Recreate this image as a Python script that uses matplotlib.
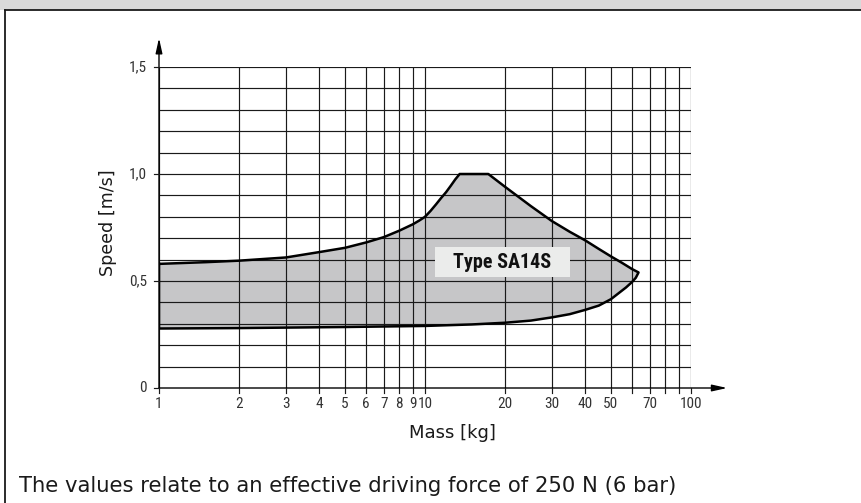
import matplotlib
matplotlib.use("Agg")
import matplotlib.pyplot as plt
from matplotlib.lines import Line2D
from matplotlib.patches import Rectangle
from matplotlib import font_manager

# ---- data ----
upper_mass = [1, 1.5, 2, 3, 4, 5, 6, 7, 8, 9, 9.5, 10, 10.5, 11, 11.5, 12, 12.5, 13, 13.5]
upper_speed = [0.58, 0.588, 0.595, 0.61, 0.635, 0.655, 0.68, 0.705, 0.735, 0.765, 0.782,
               0.80, 0.828, 0.858, 0.888, 0.915, 0.945, 0.975, 1.0]
top_mass = [13.5, 17.3]
top_speed = [1.0, 1.0]
right_mass = [17.3, 20, 25, 30, 35, 40, 45, 50, 55, 60, 63.5]
right_speed = [1.0, 0.94, 0.85, 0.78, 0.73, 0.69, 0.65, 0.615, 0.585, 0.556, 0.54]
lower_mass = [63.5, 62, 60, 57, 55, 50, 45, 40, 35, 30, 25, 20, 15, 10, 5, 2, 1]
lower_speed = [0.54, 0.515, 0.495, 0.47, 0.455, 0.415, 0.385, 0.365, 0.345, 0.33, 0.315,
               0.305, 0.297, 0.29, 0.285, 0.28, 0.278]

x_grid = [1, 2, 3, 4, 5, 6, 7, 8, 9, 10, 20, 30, 40, 50, 60, 70, 80, 90, 100]
x_labels = {1: "1", 2: "2", 3: "3", 4: "4", 5: "5", 6: "6", 7: "7", 8: "8", 9: "9",
            10: "10", 20: "20", 30: "30", 40: "40", 50: "50", 70: "70", 100: "100"}
y_grid = [0.1, 0.2, 0.3, 0.4, 0.5, 0.6, 0.7, 0.8, 0.9, 1.0, 1.1, 1.2, 1.3, 1.4, 1.5]
y_ticks = [0, 0.5, 1.0, 1.5]
y_labels = ["0", "0,5", "1,0", "1,5"]

# ---- fonts ----
names = {f.name for f in font_manager.fontManager.ttflist}
cond = None
for n in ["Roboto Condensed", "Liberation Sans Narrow", "Arial Narrow", "Open Sans Condensed"]:
    if n in names:
        cond = dict(family=n)
        break
if cond is None:
    if any(f.name == "DejaVu Sans" and f.stretch in ("condensed", 700, "semi-condensed")
           for f in font_manager.fontManager.ttflist):
        cond = dict(family="DejaVu Sans", stretch="condensed")
    else:
        cond = dict(family="Roboto")
main = dict(family="DejaVu Sans")

W, H = 861, 503
fig = plt.figure(figsize=(W / 100, H / 100), dpi=100)
fig.patch.set_facecolor("white")

# frame: grey header band, dark rule and left border
fig.patches.append(Rectangle((0, 1 - 9.5 / H), 1, 9.5 / H, transform=fig.transFigure,
                             facecolor="#d9d9d9", edgecolor="none", zorder=0))
fig.lines.append(Line2D([5 / W, 1], [1 - 10 / H, 1 - 10 / H], transform=fig.transFigure,
                        color="#1a1a1a", lw=1.3))
fig.lines.append(Line2D([5 / W, 5 / W], [0, 1 - 10 / H], transform=fig.transFigure,
                        color="#1a1a1a", lw=1.3))

x0, x1 = 159, 691
y0, y1 = 388, 67
ax = fig.add_axes([x0 / W, 1 - y0 / H, (x1 - x0) / W, (y0 - y1) / H])
ax.set_xscale("log")
ax.set_xlim(1, 100)
ax.set_ylim(0, 1.5)
for s in ax.spines.values():
    s.set_visible(False)
ax.set_xticks([])
ax.set_yticks([])
ax.minorticks_off()
ax.patch.set_alpha(0)

# envelope fill
px = upper_mass + top_mass[1:] + right_mass[1:] + lower_mass[1:]
py = upper_speed + top_speed[1:] + right_speed[1:] + lower_speed[1:]
ax.fill(px, py, facecolor="#c6c6c8", edgecolor="none", zorder=1)

gcol = "#1a1a1a"
for xv in x_grid:
    ax.plot([xv, xv], [0, 1.5], color=gcol, lw=0.85, zorder=2, solid_capstyle="butt")
for yv in y_grid:
    ax.plot([1, 100], [yv, yv], color=gcol, lw=0.85, zorder=2, solid_capstyle="butt")

ax.plot(px + [px[0]], py + [py[0]], color="black", lw=1.8, zorder=3,
        solid_joinstyle="round")

# axes with arrows
ax.annotate("", xy=(1.068, 0), xytext=(0, 0), xycoords="axes fraction",
            arrowprops=dict(arrowstyle="-|>,head_length=0.9,head_width=0.2",
                            color="black", lw=1.0, shrinkA=0, shrinkB=0), zorder=4)
ax.annotate("", xy=(0, 1.09), xytext=(0, 0), xycoords="axes fraction",
            arrowprops=dict(arrowstyle="-|>,head_length=0.9,head_width=0.2",
                            color="black", lw=1.0, shrinkA=0, shrinkB=0), zorder=4)

# x ticks and labels
for xv in x_grid:
    ax.plot([xv, xv], [0, -0.025], color=gcol, lw=0.85, clip_on=False, zorder=4)
for xv, lab in x_labels.items():
    ax.text(xv, -0.04, lab, ha="center", va="top", fontsize=11, color="#333333",
            clip_on=False, **cond)
# y ticks and labels
for yv, lab in zip(y_ticks, y_labels):
    ax.plot([1, 0.955], [yv, yv], color=gcol, lw=0.85, clip_on=False, zorder=4)
    ax.text(0.9, yv, lab, ha="right", va="center", fontsize=11, color="#333333",
            clip_on=False, **cond)

ax.text(0.552, -0.113, "Mass [kg]", transform=ax.transAxes, ha="center", va="top",
        fontsize=13, color="#1a1a1a", clip_on=False, **main)
ax.text(-0.096, 0.515, "Speed [m/s]", transform=ax.transAxes, ha="center", va="center",
        rotation=90, fontsize=12.6, color="#1a1a1a", clip_on=False, **main)

# label box
ax.add_patch(Rectangle((0.519, 0.3458), 0.2537, 0.0935, transform=ax.transAxes,
                       facecolor="#ebeceb", edgecolor="none", zorder=5))
ax.text(0.6457, 0.3925, "Type SA14S", transform=ax.transAxes, ha="center", va="center",
        fontsize=14.5, fontweight="bold", color="#111111", zorder=6, **cond)

fig.text(19 / W, 1 - 486 / H, "The values relate to an effective driving force of 250 N (6 bar)",
         ha="left", va="center", fontsize=15.2, color="#1a1a1a", **main)

fig.savefig("out.png", dpi=100, facecolor="white")
